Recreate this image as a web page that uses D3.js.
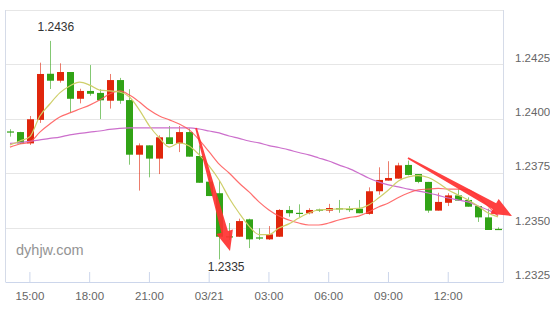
<!DOCTYPE html>
<html><head><meta charset="utf-8">
<script src="https://cdn.jsdelivr.net/npm/d3@7"></script>
<style>
html,body{margin:0;padding:0;background:#fff;}
svg{display:block;font-family:"Liberation Sans",Arial,sans-serif;}
</style></head>
<body><svg id="c" width="550" height="310"></svg>
<script>
const categories = ["14:00","14:30","15:00","15:30","16:00","16:30","17:00","17:30","18:00","18:30",
"19:00","19:30","20:00","20:30","21:00","21:30","22:00","22:30","23:00","23:30",
"00:00","00:30","01:00","01:30","02:00","02:30","03:00","03:30","04:00","04:30",
"05:00","05:30","06:00","06:30","07:00","07:30","08:00","08:30","09:00","09:30",
"10:00","10:30","11:00","11:30","12:00","12:30","13:00","13:30","14:00","14:30"];

const open  = [1.23942,1.23939,1.23887,1.23995,1.24207,1.24175,1.24215,1.24092,1.24128,1.24119,
1.24083,1.24178,1.24086,1.23835,1.23878,1.23817,1.23915,1.23887,1.23939,1.23829,
1.23711,1.23658,1.23460,1.23458,1.23538,1.23455,1.23446,1.23458,1.23581,1.23568,
1.23566,1.23583,1.23578,1.23589,1.23586,1.23587,1.23563,1.23667,1.23716,1.23725,
1.23788,1.23746,1.23710,1.23578,1.23614,1.23648,1.23627,1.23599,1.23547,1.23494];
const high  = [1.23952,1.23940,1.24013,1.24258,1.24358,1.24255,1.24215,1.24138,1.24247,1.24136,
1.24206,1.24188,1.24136,1.23887,1.23878,1.23924,1.23967,1.23967,1.23956,1.23878,
1.23757,1.23716,1.23521,1.23541,1.23541,1.23497,1.23507,1.23585,1.23599,1.23607,
1.23589,1.23587,1.23609,1.23627,1.23599,1.23627,1.23685,1.23777,1.23805,1.23798,
1.23808,1.23746,1.23710,1.23660,1.23658,1.23676,1.23639,1.23599,1.23587,1.23501];
const low   = [1.23918,1.23885,1.23880,1.23981,1.24137,1.24166,1.24028,1.24071,1.24106,1.23999,
1.24047,1.24069,1.23789,1.23670,1.23731,1.23746,1.23884,1.23847,1.23826,1.23706,
1.23645,1.23354,1.23443,1.23458,1.23406,1.23443,1.23443,1.23457,1.23550,1.23547,
1.23561,1.23572,1.23568,1.23568,1.23572,1.23566,1.23559,1.23651,1.23716,1.23725,
1.23740,1.23704,1.23568,1.23578,1.23599,1.23624,1.23596,1.23526,1.23489,1.23489];
const close = [1.23940,1.23887,1.23998,1.24206,1.24175,1.24215,1.24092,1.24128,1.24115,1.24085,
1.24178,1.24083,1.23835,1.23878,1.23817,1.23915,1.23884,1.23939,1.23826,1.23706,
1.23645,1.23458,1.23458,1.23530,1.23446,1.23450,1.23469,1.23581,1.23566,1.23566,
1.23581,1.23580,1.23590,1.23586,1.23585,1.23566,1.23667,1.23719,1.23728,1.23786,
1.23742,1.23710,1.23578,1.23618,1.23648,1.23624,1.23596,1.23547,1.23489,1.23491];

// moving average lines
const maFast = [1.23880,1.23898,1.23918,1.24013,1.24068,1.24119,1.24151,1.24169,1.24155,1.24132,
1.24128,1.24123,1.24100,1.24040,1.23967,1.23912,1.23870,1.23889,1.23875,1.23834,
1.23783,1.23719,1.23636,1.23567,1.23507,1.23468,1.23468,1.23498,1.23517,1.23544,
1.23567,1.23581,1.23583,1.23586,1.23586,1.23588,1.23604,1.23636,1.23673,1.23714,
1.23733,1.23739,1.23730,1.23705,1.23673,1.23650,1.23627,1.23599,1.23567,1.23549];
const maMid = [1.23870,1.23884,1.23893,1.23939,1.23976,1.24008,1.24027,1.24045,1.24063,1.24086,
1.24114,1.24128,1.24109,1.24077,1.24040,1.24013,1.23995,1.23976,1.23949,1.23903,
1.23848,1.23792,1.23751,1.23705,1.23664,1.23618,1.23581,1.23553,1.23535,1.23521,
1.23512,1.23512,1.23521,1.23535,1.23546,1.23553,1.23572,1.23595,1.23613,1.23638,
1.23659,1.23673,1.23677,1.23680,1.23677,1.23677,1.23673,1.23645,1.23599,1.23553];
const maSlow = [1.23887,1.23891,1.23896,1.23903,1.23910,1.23916,1.23926,1.23933,1.23939,1.23944,
1.23951,1.23956,1.23958,1.23958,1.23958,1.23958,1.23958,1.23958,1.23958,1.23953,
1.23944,1.23935,1.23921,1.23910,1.23898,1.23889,1.23877,1.23868,1.23857,1.23845,
1.23834,1.23820,1.23806,1.23788,1.23772,1.23751,1.23728,1.23710,1.23696,1.23687,
1.23677,1.23668,1.23659,1.23648,1.23636,1.23627,1.23618,1.23599,1.23581,1.23558];

const yTicks = [1.2325, 1.2350, 1.2375, 1.2400, 1.2425];
const yTop = 1.2450;
const xTickCats = ["15:00","18:00","21:00","00:00","03:00","06:00","09:00","12:00"];
const xTickLabels = ["15:00","18:00","21:00","03/21","03:00","06:00","09:00","12:00"];

// annotation arrows [startIndex, startValue, endIndex, endValue]
const arrows = [[18.68, 1.23958, 22.09, 1.23392], [39.96, 1.23820, 50.4, 1.23553]];

const L = 5, R = 503, T = 10, B = 282;
const svg = d3.select("#c");
const idx = d3.range(categories.length);
const x = d3.scaleBand().domain(idx).range([L, R]).paddingInner(0.3).paddingOuter(0.15);
const cx = i => x(i) + x.bandwidth() / 2;
const y = d3.scaleLinear().domain([yTicks[0], yTop]).range([B, T]);

// gridlines
svg.append("g").selectAll("line").data(yTicks.slice(1))
  .join("line").attr("x1", L).attr("x2", R)
  .attr("y1", d => Math.round(y(d)) + 0.5).attr("y2", d => Math.round(y(d)) + 0.5)
  .attr("stroke", "#e6e6e6");
// frame
svg.append("line").attr("x1", L).attr("x2", R).attr("y1", y(yTop)+0.5).attr("y2", y(yTop)+0.5).attr("stroke", "#e6e6e6");
svg.append("line").attr("x1", L+0.5).attr("x2", L+0.5).attr("y1", T).attr("y2", B).attr("stroke", "#d5dbe8");
svg.append("line").attr("x1", R+0.5).attr("x2", R+0.5).attr("y1", T).attr("y2", B).attr("stroke", "#d5dbe8");

// watermark
svg.append("text").attr("x", 16).attr("y", 255).text("dyhjw.com")
  .attr("fill", "#949494").attr("font-size", 14.5);

// x axis
const tickIdx = xTickCats.map(c => categories.indexOf(c));
const xAxis = d3.axisBottom(x).tickValues(tickIdx)
  .tickFormat(i => xTickLabels[tickIdx.indexOf(i)])
  .tickSizeInner(-10).tickSizeOuter(0).tickPadding(10);
const gx = svg.append("g").attr("transform", `translate(0,${B})`).call(xAxis);
gx.select(".domain").attr("stroke", "#ccd6eb");
gx.selectAll(".tick line").attr("stroke", "#ccd6eb");
gx.selectAll("text").attr("fill", "#666").attr("font-size", 11.5)
  .attr("font-family", "Liberation Sans, Arial, sans-serif");

// y axis (right)
const yAxis = d3.axisRight(y).tickValues(yTicks).tickFormat(d3.format(".4f")).tickSize(0).tickPadding(12);
const gy = svg.append("g").attr("transform", `translate(${R},0)`).call(yAxis);
gy.select(".domain").remove();
gy.selectAll("text").attr("fill", "#666").attr("font-size", 11.5).attr("y", -7)
  .attr("font-family", "Liberation Sans, Arial, sans-serif");

// candles
const up = "#e0260c", dn = "#31a316";
const col = i => close[i] > open[i] ? up : dn;
const cg = svg.append("g");
cg.selectAll("line").data(idx).join("line")
  .attr("x1", i => Math.round(cx(i)) + 0.5).attr("x2", i => Math.round(cx(i)) + 0.5)
  .attr("y1", i => y(high[i])).attr("y2", i => y(low[i]))
  .attr("stroke", col).attr("stroke-opacity", 0.6).attr("stroke-width", 1);
cg.selectAll("rect").data(idx).join("rect")
  .attr("x", i => Math.round(cx(i)) + 0.5 - 3.5).attr("width", 7)
  .attr("y", i => y(Math.max(open[i], close[i])))
  .attr("height", i => Math.max(1.2, Math.abs(y(open[i]) - y(close[i]))))
  .attr("fill", col);

// MA lines
const line = d3.line().x((d, i) => cx(i)).y(d => y(d)).curve(d3.curveMonotoneX);
[[maSlow, "#cc6fcc", 1], [maMid, "#ff5555", 0.85], [maFast, "#cfcf6a", 1]].forEach(([data, c, o]) => {
  svg.append("path").attr("d", line(data)).attr("fill", "none")
    .attr("stroke", c).attr("stroke-opacity", o).attr("stroke-width", 1.2);
});

// extreme labels
const hiI = d3.maxIndex(high), loI = d3.minIndex(low);
svg.append("text").attr("x", cx(hiI) + 6).attr("y", y(high[hiI]) - 10)
  .attr("text-anchor", "middle").attr("fill", "#333").attr("font-size", 12)
  .text(d3.format(".4f")(high[hiI]));
svg.append("text").attr("x", cx(loI) + 7).attr("y", y(low[loI]) + 12)
  .attr("text-anchor", "middle").attr("fill", "#333").attr("font-size", 12)
  .text(d3.format(".4f")(low[loI]));

// arrows
const step = x.step();
const xi = v => cx(0) + v * step;
arrows.forEach(([i0, v0, i1, v1]) => {
  const x0 = xi(i0), y0 = y(v0), x1 = xi(i1), y1 = y(v1);
  const dx = x1 - x0, dy = y1 - y0, len = Math.hypot(dx, dy);
  const ux = dx / len, uy = dy / len, px = -uy, py = ux;
  const headL = 20, headW = 8.5, w0 = 0.9, w1 = 3.4;
  const bx = x1 - ux * headL, by = y1 - uy * headL;
  const pts = [
    [x0 + px * w0, y0 + py * w0],
    [bx + px * w1, by + py * w1],
    [bx + px * headW, by + py * headW],
    [x1, y1],
    [bx - px * headW, by - py * headW],
    [bx - px * w1, by - py * w1],
    [x0 - px * w0, y0 - py * w0]
  ];
  svg.append("path").attr("d", "M" + pts.map(p => p.join(",")).join("L") + "Z")
    .attr("fill", "#ff3030").attr("fill-opacity", 0.92);
});
</script></body></html>
